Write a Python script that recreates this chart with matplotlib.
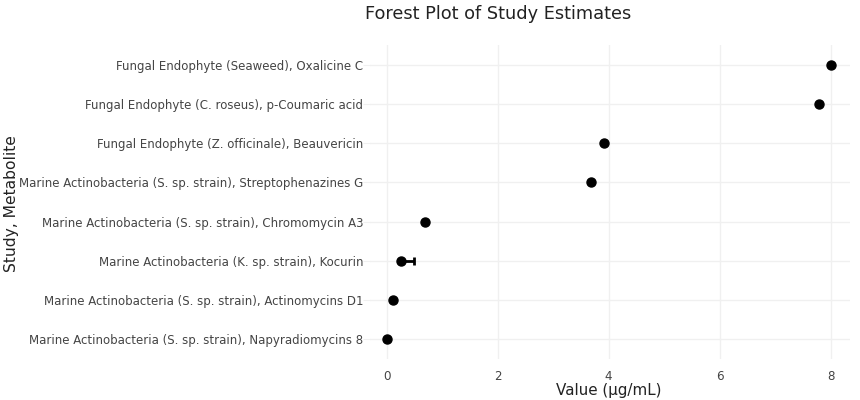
import matplotlib
matplotlib.use("Agg")
import matplotlib.pyplot as plt

labels = [
    "Marine Actinobacteria (S. sp. strain), Napyradiomycins 8",
    "Marine Actinobacteria (S. sp. strain), Actinomycins D1",
    "Marine Actinobacteria (K. sp. strain), Kocurin",
    "Marine Actinobacteria (S. sp. strain), Chromomycin A3",
    "Marine Actinobacteria (S. sp. strain), Streptophenazines G",
    "Fungal Endophyte (Z. officinale), Beauvericin",
    "Fungal Endophyte (C. roseus), p-Coumaric acid",
    "Fungal Endophyte (Seaweed), Oxalicine C",
]
values = [0.0, 0.12, 0.25, 0.70, 3.68, 3.91, 7.8, 8.0]
err_lower = [0.0, 0.0, 0.0, 0.0, 0.0, 0.0, 0.0, 0.0]
err_upper = [0.0, 0.0, 0.25, 0.0, 0.0, 0.0, 0.0, 0.0]
x_ticks = [0, 2, 4, 6, 8]

plt.rcParams['font.family'] = ['DejaVu Sans']

fig = plt.figure(figsize=(8.6, 4.0), dpi=100)
ax = fig.add_axes([370/860, 41/400, 480/860, 314/400])

ypos = list(range(len(labels)))
# error bars only where an error exists
eb_idx = [i for i in ypos if err_lower[i] > 0 or err_upper[i] > 0]
if eb_idx:
    ax.errorbar([values[i] for i in eb_idx], [ypos[i] for i in eb_idx],
                xerr=[[err_lower[i] for i in eb_idx], [err_upper[i] for i in eb_idx]],
                fmt='none', ecolor='black', elinewidth=2, capsize=2.6, capthick=2, zorder=2)
ax.plot(values, ypos, 'o', color='black', markersize=6.5, zorder=3)

ax.set_xlim(-0.3, 8.35)
ax.set_ylim(-0.5, len(labels) - 0.5)
ax.set_xticks(x_ticks)
ax.set_xticklabels([str(t) for t in x_ticks])
ax.set_yticks(ypos)
ax.set_yticklabels(labels)

ax.grid(True, color='#f0f0f0', linewidth=1)
ax.set_axisbelow(True)
for s in ax.spines.values():
    s.set_visible(False)
ax.tick_params(axis='x', length=0, pad=8, labelsize=8.6, labelcolor='#444444')
ax.tick_params(axis='y', length=5, color='#f0f0f0', pad=0, labelsize=8.5, labelcolor='#444444')

fig.text(609/860, 10/400, "Value (µg/mL)", fontsize=10.9, color='#222222',
         ha='center', va='center')
fig.text(12/860, 196/400, "Study, Metabolite", rotation=90, fontsize=11.2,
         color='#222222', ha='center', va='center')
fig.text(498/860, 386/400, "Forest Plot of Study Estimates", fontsize=12.8,
         color='#222222', ha='center', va='center')

fig.savefig("out.png", dpi=100, facecolor='white')
